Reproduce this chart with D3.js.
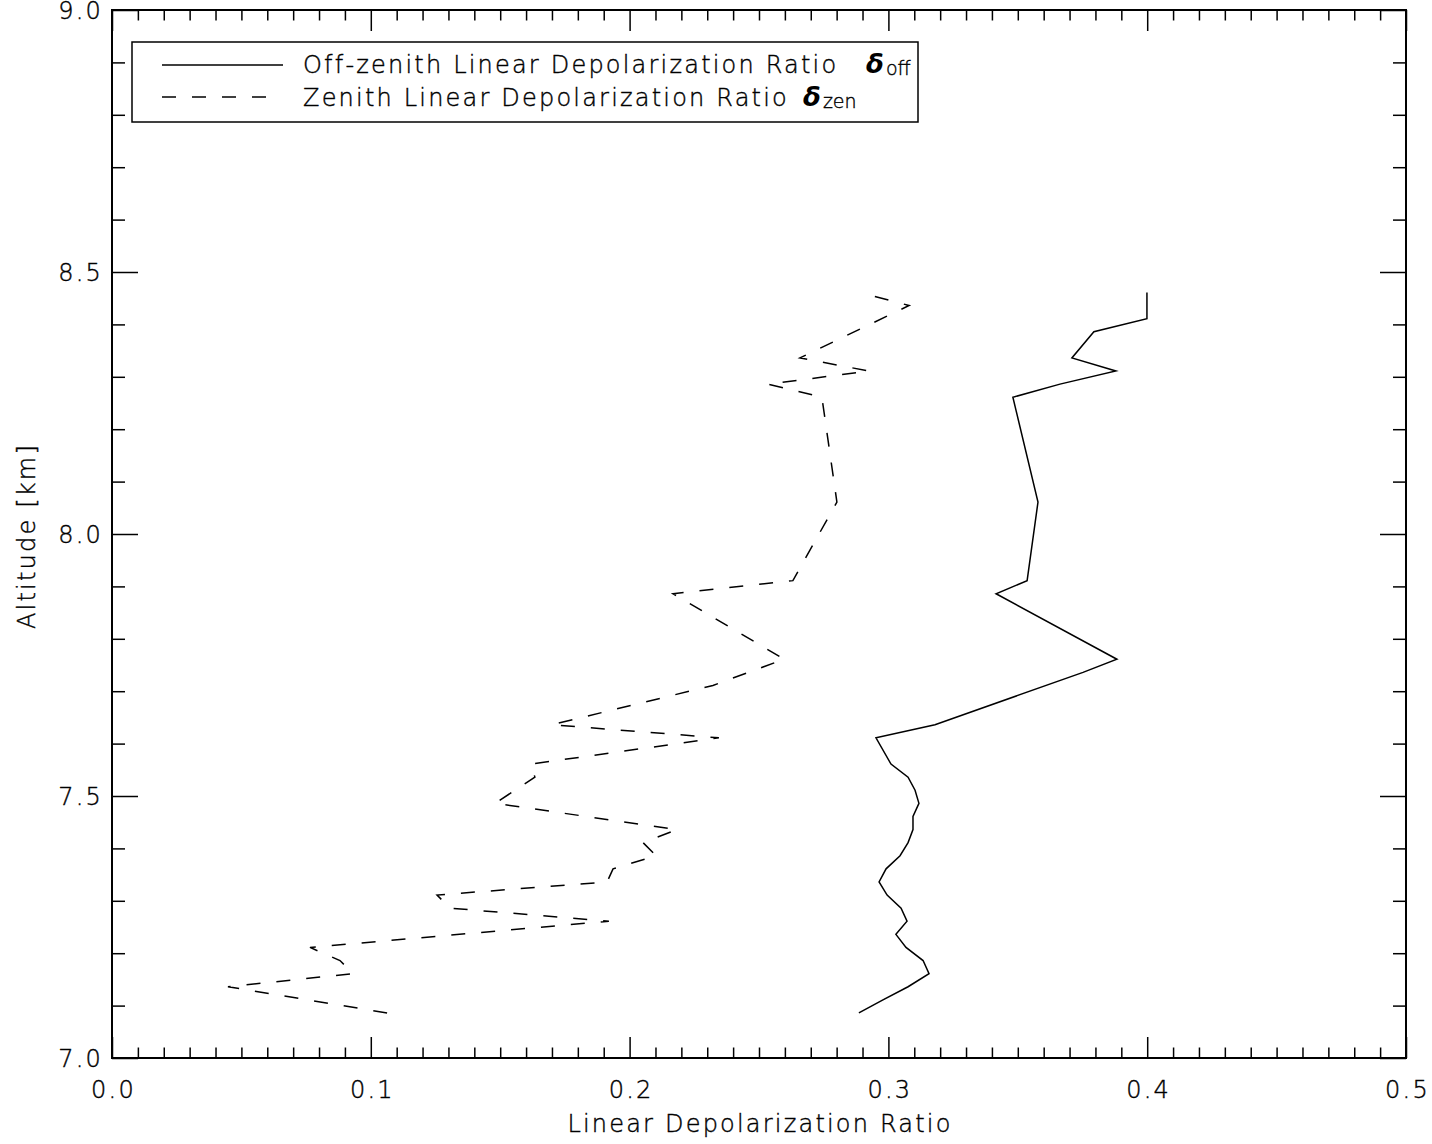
<!DOCTYPE html>
<html>
<head>
<meta charset="utf-8">
<script src="https://cdn.jsdelivr.net/npm/d3@7"></script>
<style>
  html, body { margin: 0; padding: 0; background: #fff; }
  svg { display: block; }
  text { font-family: "DejaVu Sans", "Liberation Sans", sans-serif; fill: #000; font-weight: 200;
         letter-spacing: 2.2px; stroke: #000; stroke-width: 0.4px; }
</style>
</head>
<body>
<svg id="chart" width="1432" height="1144"></svg>
<script>
// Off-zenith linear depolarization ratio profile (altitude in km)
const altOff = [7.086, 7.111, 7.136, 7.161, 7.186, 7.211, 7.236, 7.261, 7.286, 7.311,
                7.336, 7.361, 7.386, 7.411, 7.436, 7.461, 7.486, 7.511, 7.536, 7.561,
                7.611, 7.636, 7.736, 7.761, 7.886, 7.911, 8.061, 8.261, 8.286, 8.311,
                8.336, 8.386, 8.411, 8.461];
const deltaOff = [0.2886, 0.2979, 0.3076, 0.3157, 0.3134, 0.3068, 0.3029, 0.3072, 0.3049, 0.2995,
                  0.2964, 0.2991, 0.3045, 0.3076, 0.3095, 0.3095, 0.3118, 0.3103, 0.3076, 0.3010,
                  0.2952, 0.3180, 0.3752, 0.3883, 0.3416, 0.3536, 0.3578, 0.3481, 0.3663, 0.3879,
                  0.3709, 0.3794, 0.3999, 0.3999];

// Zenith linear depolarization ratio profile
const altZen = [7.086, 7.136, 7.161, 7.186, 7.211, 7.261, 7.286, 7.311, 7.336, 7.361,
                7.386, 7.411, 7.436, 7.486, 7.536, 7.561, 7.611, 7.636, 7.711, 7.761,
                7.886, 7.911, 8.061, 8.261, 8.286, 8.311, 8.336, 8.436, 8.461];
const deltaZen = [0.1063, 0.0448, 0.0931, 0.0881, 0.0765, 0.1920, 0.1306, 0.1256, 0.1913, 0.1936,
                  0.2102, 0.2052, 0.2183, 0.1480, 0.1634, 0.1619, 0.2345, 0.1700, 0.2322, 0.2597,
                  0.2168, 0.2631, 0.2801, 0.2743, 0.2535, 0.2925, 0.2658, 0.3080, 0.2890];

// Axis ticks and labels
const xMajorTicks = [0.0, 0.1, 0.2, 0.3, 0.4, 0.5];
const xTickLabels = ["0.0", "0.1", "0.2", "0.3", "0.4", "0.5"];
const yMajorTicks = [7.0, 7.5, 8.0, 8.5, 9.0];
const yTickLabels = ["7.0", "7.5", "8.0", "8.5", "9.0"];
const xMinorStep = 0.01;
const yMinorStep = 0.1;

const xTitle = "Linear Depolarization Ratio";
const yTitle = "Altitude [km]";
const legendLabels = ["Off-zenith Linear Depolarization Ratio", "Zenith Linear Depolarization Ratio"];
const legendSubs = ["off", "zen"];

// ---- layout ----
const plotL = 112, plotR = 1406, plotT = 10, plotB = 1058;
const fontSize = 24;
const xTickLen = 21, yTickLen = 26;
const dash = "14,16";

const svg = d3.select("#chart");

const x = d3.scaleLinear().domain([0, 0.5]).range([plotL, plotR]);
const y = d3.scaleLinear().domain([7, 9]).range([plotB, plotT]);

const xMinor = d3.range(0, 0.5 + 1e-9, xMinorStep).map(v => +v.toFixed(3))
  .filter(v => !xMajorTicks.some(m => Math.abs(m - v) < 1e-6));
const yMinor = d3.range(7, 9 + 1e-9, yMinorStep).map(v => +v.toFixed(3))
  .filter(v => !yMajorTicks.some(m => Math.abs(m - v) < 1e-6));

function styleAxis(g) {
  g.select(".domain").remove();
  g.selectAll(".tick line").attr("stroke", "#000").attr("stroke-width", 1.5);
  g.selectAll("text").attr("font-size", fontSize).attr("font-family", null).attr("fill", "#000");
}

const xFmt = v => xTickLabels[xMajorTicks.findIndex(m => Math.abs(m - v) < 1e-9)];
const yFmt = v => yTickLabels[yMajorTicks.findIndex(m => Math.abs(m - v) < 1e-9)];

// bottom axis
svg.append("g").attr("transform", `translate(0,${plotB})`)
  .call(d3.axisBottom(x).tickValues(xMajorTicks).tickSize(-xTickLen).tickPadding(23).tickFormat(xFmt))
  .call(styleAxis)
  .call(g => g.selectAll("text").attr("dx", "1px"));
svg.append("g").attr("transform", `translate(0,${plotB})`)
  .call(d3.axisBottom(x).tickValues(xMinor).tickSize(-xTickLen / 2).tickFormat(""))
  .call(styleAxis);
// top axis (ticks only)
svg.append("g").attr("transform", `translate(0,${plotT})`)
  .call(d3.axisTop(x).tickValues(xMajorTicks).tickSize(-xTickLen).tickFormat(""))
  .call(styleAxis);
svg.append("g").attr("transform", `translate(0,${plotT})`)
  .call(d3.axisTop(x).tickValues(xMinor).tickSize(-xTickLen / 2).tickFormat(""))
  .call(styleAxis);
// left axis
svg.append("g").attr("transform", `translate(${plotL},0)`)
  .call(d3.axisLeft(y).tickValues(yMajorTicks).tickSize(-yTickLen).tickPadding(9).tickFormat(yFmt))
  .call(styleAxis)
  .call(g => g.selectAll("text").attr("dy", "0.37em"));
svg.append("g").attr("transform", `translate(${plotL},0)`)
  .call(d3.axisLeft(y).tickValues(yMinor).tickSize(-yTickLen / 2).tickFormat(""))
  .call(styleAxis);
// right axis (ticks only)
svg.append("g").attr("transform", `translate(${plotR},0)`)
  .call(d3.axisRight(y).tickValues(yMajorTicks).tickSize(-yTickLen).tickFormat(""))
  .call(styleAxis);
svg.append("g").attr("transform", `translate(${plotR},0)`)
  .call(d3.axisRight(y).tickValues(yMinor).tickSize(-yTickLen / 2).tickFormat(""))
  .call(styleAxis);

// frame
svg.append("rect")
  .attr("x", plotL).attr("y", plotT)
  .attr("width", plotR - plotL).attr("height", plotB - plotT)
  .attr("fill", "none").attr("stroke", "#000").attr("stroke-width", 2);

// axis titles
svg.append("text")
  .attr("x", (plotL + plotR) / 2 + 1).attr("y", 1132)
  .attr("text-anchor", "middle").attr("font-size", fontSize)
  .text(xTitle);
svg.append("text")
  .attr("transform", `translate(35,${(plotT + plotB) / 2 + 2}) rotate(-90)`)
  .attr("text-anchor", "middle").attr("font-size", fontSize)
  .text(yTitle);

// profiles
const line = d3.line().x(d => x(d[1])).y(d => y(d[0]));
const offPts = altOff.map((a, i) => [a, deltaOff[i]]);
const zenPts = altZen.map((a, i) => [a, deltaZen[i]]);

svg.append("path").datum(offPts)
  .attr("d", line).attr("fill", "none")
  .attr("stroke", "#000").attr("stroke-width", 1.5).attr("stroke-linejoin", "miter");
svg.append("path").datum(zenPts)
  .attr("d", line).attr("fill", "none")
  .attr("stroke", "#000").attr("stroke-width", 1.5)
  .attr("stroke-dasharray", dash);

// legend
const lg = svg.append("g");
lg.append("rect")
  .attr("x", 132).attr("y", 42).attr("width", 786).attr("height", 80)
  .attr("fill", "#fff").attr("stroke", "#000").attr("stroke-width", 1.5);
lg.append("line").attr("x1", 162).attr("x2", 283).attr("y1", 65).attr("y2", 65)
  .attr("stroke", "#000").attr("stroke-width", 1.5);
lg.append("line").attr("x1", 162).attr("x2", 268).attr("y1", 97).attr("y2", 97)
  .attr("stroke", "#000").attr("stroke-width", 1.5).attr("stroke-dasharray", dash);

const rowBase = [73, 106];
const deltaX = [866, 803];
legendLabels.forEach((lab, i) => {
  lg.append("text").attr("x", 303).attr("y", rowBase[i]).attr("font-size", fontSize).text(lab);
  const t = lg.append("text").attr("x", deltaX[i]).attr("y", rowBase[i])
    .attr("font-size", 26).style("letter-spacing", "0px");
  t.append("tspan").attr("font-weight", "bold").attr("font-style", "italic")
    .style("stroke-width", "0px").text("δ");
  t.append("tspan").attr("font-size", 19).attr("dy", 2).attr("dx", 2).text(legendSubs[i]);
});
</script>
</body>
</html>
